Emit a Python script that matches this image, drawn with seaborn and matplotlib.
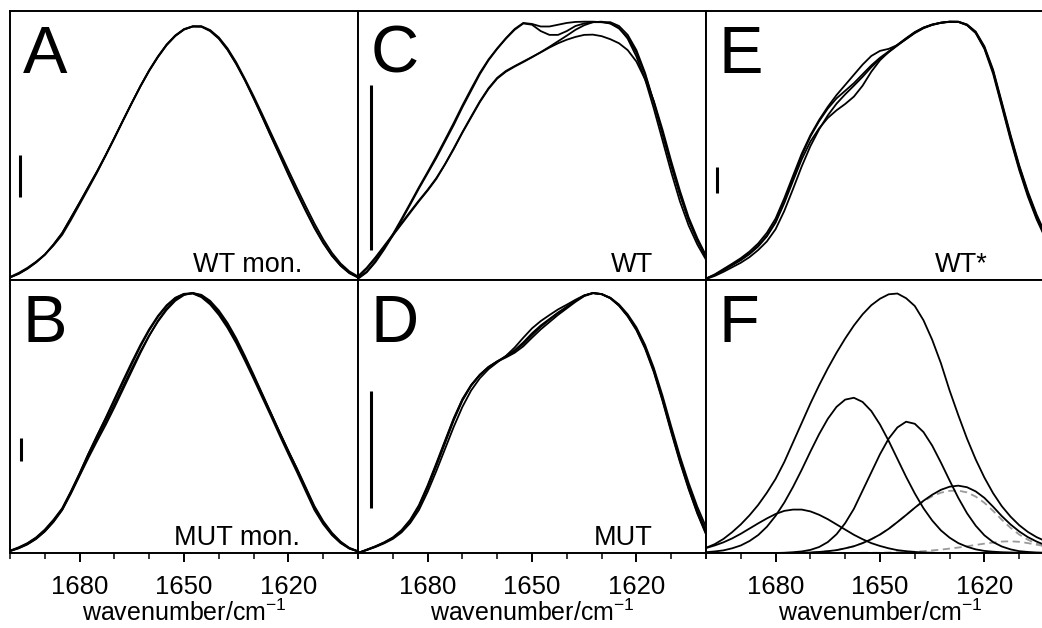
"""Amide I band shapes of WT / MUT samples (panels A-E) and band fit (panel F).
Six panels share the wavenumber axis, drawn with seaborn lineplot.
"""

import matplotlib
matplotlib.use("Agg")
import numpy as np
import pandas as pd
import matplotlib.pyplot as plt
import seaborn as sns
from matplotlib.ticker import MultipleLocator


wavenumber = [1700, 1697.5, 1695, 1692.5, 1690, 1687.5, 1685, 1682.5, 1680, 1677.5,
              1675, 1672.5, 1670, 1667.5, 1665, 1662.5, 1660, 1657.5, 1655, 1652.5,
              1650, 1647.5, 1645, 1642.5, 1640, 1637.5, 1635, 1632.5, 1630, 1627.5,
              1625, 1622.5, 1620, 1617.5, 1615, 1612.5, 1610, 1607.5, 1605, 1602.5,
              1600]

# panel A: WT mon.
wt_mon_1 = [0.010, 0.025, 0.045, 0.070, 0.100, 0.140, 0.185, 0.245, 0.305, 0.366,
            0.427, 0.492, 0.560, 0.629, 0.697, 0.763, 0.824, 0.878, 0.925, 0.961,
            0.986, 0.998, 0.998, 0.982, 0.952, 0.908, 0.852, 0.788, 0.717, 0.643,
            0.567, 0.493, 0.418, 0.345, 0.275, 0.208, 0.148, 0.097, 0.057, 0.028,
            0.010]
wt_mon_2 = [0.010, 0.024, 0.044, 0.069, 0.099, 0.139, 0.185, 0.244, 0.304, 0.366,
            0.427, 0.492, 0.560, 0.629, 0.697, 0.763, 0.824, 0.878, 0.925, 0.961,
            0.986, 0.998, 0.999, 0.984, 0.955, 0.912, 0.857, 0.792, 0.724, 0.652,
            0.578, 0.505, 0.432, 0.360, 0.290, 0.222, 0.160, 0.107, 0.065, 0.034,
            0.014]
wt_mon_3 = [0.012, 0.028, 0.048, 0.072, 0.100, 0.136, 0.178, 0.236, 0.298, 0.360,
            0.423, 0.490, 0.558, 0.628, 0.697, 0.764, 0.826, 0.880, 0.927, 0.963,
            0.988, 0.999, 0.997, 0.980, 0.950, 0.906, 0.850, 0.786, 0.715, 0.641,
            0.565, 0.490, 0.414, 0.341, 0.271, 0.204, 0.145, 0.095, 0.056, 0.027,
            0.010]

# panel B: MUT mon.
mut_mon_1 = [0.008, 0.020, 0.036, 0.058, 0.087, 0.125, 0.170, 0.235, 0.305, 0.380,
             0.451, 0.520, 0.592, 0.664, 0.734, 0.801, 0.861, 0.912, 0.953, 0.982,
             0.997, 0.999, 0.986, 0.960, 0.921, 0.872, 0.814, 0.748, 0.678, 0.607,
             0.535, 0.462, 0.390, 0.320, 0.245, 0.170, 0.115, 0.072, 0.040, 0.018,
             0.006]
mut_mon_2 = [0.008, 0.019, 0.034, 0.055, 0.083, 0.120, 0.165, 0.228, 0.297, 0.365,
             0.430, 0.493, 0.560, 0.630, 0.700, 0.770, 0.835, 0.893, 0.940, 0.975,
             0.994, 1.000, 0.990, 0.965, 0.926, 0.877, 0.818, 0.752, 0.681, 0.609,
             0.536, 0.463, 0.392, 0.322, 0.248, 0.175, 0.118, 0.074, 0.041, 0.018,
             0.006]
mut_mon_3 = [0.007, 0.018, 0.033, 0.054, 0.083, 0.120, 0.167, 0.232, 0.300, 0.372,
             0.440, 0.505, 0.572, 0.641, 0.710, 0.776, 0.837, 0.890, 0.935, 0.970,
             0.992, 1.000, 0.993, 0.970, 0.933, 0.885, 0.826, 0.758, 0.686, 0.612,
             0.538, 0.464, 0.392, 0.324, 0.252, 0.180, 0.123, 0.078, 0.044, 0.020,
             0.007]
mut_mon_4 = [0.009, 0.022, 0.038, 0.060, 0.090, 0.128, 0.172, 0.237, 0.307, 0.381,
             0.450, 0.517, 0.587, 0.657, 0.727, 0.795, 0.856, 0.908, 0.950, 0.980,
             0.996, 0.998, 0.984, 0.956, 0.916, 0.866, 0.807, 0.740, 0.670, 0.598,
             0.526, 0.452, 0.380, 0.310, 0.237, 0.165, 0.111, 0.069, 0.038, 0.017,
             0.006]

# panel C: WT
wt_1 = [0.005, 0.030, 0.070, 0.120, 0.175, 0.235, 0.297, 0.360, 0.420, 0.480,
        0.545, 0.610, 0.680, 0.745, 0.810, 0.865, 0.910, 0.950, 0.985, 1.010,
        1.005, 0.980, 0.965, 0.965, 0.980, 1.000, 1.010, 1.015, 1.015, 1.015,
        1.000, 0.965, 0.905, 0.815, 0.700, 0.575, 0.450, 0.335, 0.235, 0.155,
        0.090]
wt_2 = [0.008, 0.033, 0.074, 0.124, 0.180, 0.240, 0.302, 0.365, 0.425, 0.487,
        0.552, 0.618, 0.687, 0.752, 0.815, 0.868, 0.912, 0.952, 0.988, 1.012,
        1.008, 0.998, 0.998, 1.005, 1.012, 1.016, 1.017, 1.017, 1.015, 1.010,
        0.993, 0.950, 0.880, 0.790, 0.675, 0.550, 0.425, 0.310, 0.215, 0.140,
        0.080]
wt_3 = [0.012, 0.045, 0.085, 0.130, 0.175, 0.220, 0.265, 0.310, 0.352, 0.398,
        0.455, 0.515, 0.580, 0.640, 0.700, 0.752, 0.793, 0.820, 0.840, 0.858,
        0.877, 0.897, 0.918, 0.940, 0.962, 0.985, 1.003, 1.015, 1.017, 1.010,
        0.990, 0.955, 0.895, 0.808, 0.700, 0.578, 0.455, 0.340, 0.238, 0.158,
        0.092]
wt_4 = [0.015, 0.048, 0.089, 0.134, 0.179, 0.224, 0.269, 0.313, 0.355, 0.401,
        0.456, 0.518, 0.582, 0.643, 0.703, 0.755, 0.796, 0.823, 0.842, 0.860,
        0.878, 0.896, 0.915, 0.932, 0.946, 0.957, 0.965, 0.966, 0.960, 0.948,
        0.932, 0.905, 0.860, 0.790, 0.705, 0.592, 0.468, 0.352, 0.247, 0.165,
        0.096]

# panel D: MUT
mut_1 = [0.000, 0.012, 0.025, 0.040, 0.058, 0.085, 0.125, 0.180, 0.255, 0.340,
         0.428, 0.515, 0.590, 0.645, 0.685, 0.715, 0.737, 0.757, 0.780, 0.810,
         0.845, 0.875, 0.900, 0.925, 0.947, 0.970, 0.990, 1.000, 0.995, 0.980,
         0.952, 0.912, 0.860, 0.790, 0.700, 0.590, 0.470, 0.355, 0.250, 0.155,
         0.075]
mut_2 = [0.000, 0.011, 0.023, 0.037, 0.054, 0.079, 0.115, 0.165, 0.235, 0.315,
         0.400, 0.485, 0.562, 0.625, 0.672, 0.707, 0.733, 0.758, 0.790, 0.828,
         0.864, 0.892, 0.915, 0.937, 0.955, 0.974, 0.991, 1.000, 0.996, 0.981,
         0.953, 0.913, 0.862, 0.793, 0.704, 0.595, 0.476, 0.362, 0.258, 0.165,
         0.085]
mut_3 = [0.000, 0.012, 0.024, 0.039, 0.057, 0.083, 0.122, 0.176, 0.250, 0.334,
         0.422, 0.510, 0.586, 0.643, 0.684, 0.714, 0.736, 0.752, 0.770, 0.795,
         0.828, 0.860, 0.888, 0.916, 0.941, 0.966, 0.988, 0.999, 0.996, 0.980,
         0.951, 0.910, 0.857, 0.786, 0.696, 0.585, 0.465, 0.350, 0.246, 0.152,
         0.072]
mut_4 = [0.000, 0.013, 0.026, 0.041, 0.060, 0.088, 0.128, 0.184, 0.260, 0.345,
         0.432, 0.518, 0.592, 0.646, 0.686, 0.716, 0.737, 0.755, 0.776, 0.804,
         0.838, 0.870, 0.897, 0.923, 0.946, 0.970, 0.990, 1.000, 0.996, 0.982,
         0.956, 0.918, 0.868, 0.800, 0.712, 0.605, 0.487, 0.373, 0.270, 0.178,
         0.100]

# panel E: WT*
wt_star_1 = [0.005, 0.020, 0.040, 0.060, 0.080, 0.105, 0.135, 0.175, 0.230, 0.310,
             0.400, 0.490, 0.565, 0.625, 0.675, 0.715, 0.745, 0.775, 0.810, 0.845,
             0.875, 0.900, 0.925, 0.950, 0.975, 0.993, 1.005, 1.013, 1.017, 1.017,
             1.005, 0.975, 0.915, 0.820, 0.690, 0.560, 0.440, 0.335, 0.245, 0.170,
             0.110]
wt_star_2 = [0.004, 0.016, 0.032, 0.050, 0.068, 0.090, 0.118, 0.152, 0.200, 0.272,
             0.358, 0.447, 0.527, 0.593, 0.648, 0.694, 0.731, 0.765, 0.800, 0.838,
             0.870, 0.897, 0.923, 0.949, 0.974, 0.993, 1.005, 1.013, 1.017, 1.016,
             1.003, 0.972, 0.910, 0.812, 0.683, 0.553, 0.433, 0.328, 0.239, 0.165,
             0.106]
wt_star_3 = [0.006, 0.022, 0.043, 0.064, 0.086, 0.112, 0.144, 0.186, 0.242, 0.322,
             0.410, 0.497, 0.570, 0.630, 0.682, 0.728, 0.768, 0.808, 0.848, 0.882,
             0.902, 0.910, 0.925, 0.948, 0.972, 0.991, 1.004, 1.012, 1.016, 1.016,
             1.004, 0.974, 0.914, 0.822, 0.695, 0.566, 0.447, 0.342, 0.252, 0.176,
             0.115]
wt_star_4 = [0.005, 0.019, 0.038, 0.058, 0.078, 0.102, 0.132, 0.172, 0.226, 0.303,
             0.390, 0.475, 0.545, 0.597, 0.638, 0.668, 0.693, 0.722, 0.765, 0.820,
             0.865, 0.898, 0.926, 0.952, 0.976, 0.994, 1.006, 1.013, 1.017, 1.017,
             1.006, 0.978, 0.920, 0.828, 0.700, 0.572, 0.452, 0.348, 0.258, 0.182,
             0.120]

# panel F: measured band and fitted components
fit_envelope = [0.020, 0.034, 0.054, 0.080, 0.110, 0.145, 0.185, 0.232, 0.285, 0.350,
                0.425, 0.500, 0.575, 0.645, 0.710, 0.770, 0.825, 0.875, 0.918, 0.953,
                0.978, 0.995, 0.998, 0.980, 0.950, 0.895, 0.820, 0.730, 0.625, 0.530,
                0.440, 0.360, 0.290, 0.230, 0.180, 0.140, 0.107, 0.081, 0.061, 0.046,
                0.035]
band_1674 = [0.019, 0.029, 0.041, 0.056, 0.074, 0.094, 0.114, 0.133, 0.150, 0.162,
             0.167, 0.167, 0.160, 0.147, 0.130, 0.110, 0.090, 0.070, 0.053, 0.038,
             0.027, 0.018, 0.011, 0.007, 0.004, 0.002, 0.001, 0.000, 0.000, 0.000,
             0.000, 0.000, 0.000, 0.000, 0.000, 0.000, 0.000, 0.000, 0.000, 0.000,
             0.000]
band_1658 = [0.003, 0.006, 0.010, 0.018, 0.029, 0.046, 0.069, 0.101, 0.143, 0.194,
             0.254, 0.320, 0.390, 0.457, 0.516, 0.562, 0.590, 0.597, 0.581, 0.546,
             0.494, 0.431, 0.362, 0.293, 0.229, 0.172, 0.125, 0.087, 0.059, 0.038,
             0.024, 0.014, 0.008, 0.005, 0.003, 0.002, 0.001, 0.000, 0.000, 0.000,
             0.000]
band_1642 = [0.000, 0.000, 0.000, 0.000, 0.000, 0.000, 0.000, 0.000, 0.000, 0.001,
             0.003, 0.006, 0.012, 0.023, 0.042, 0.072, 0.115, 0.170, 0.240, 0.310,
             0.380, 0.440, 0.483, 0.505, 0.497, 0.465, 0.413, 0.348, 0.279, 0.212,
             0.153, 0.105, 0.068, 0.042, 0.025, 0.014, 0.007, 0.004, 0.002, 0.001,
             0.000]
band_1627 = [0.000, 0.000, 0.000, 0.000, 0.000, 0.000, 0.000, 0.000, 0.000, 0.000,
             0.000, 0.001, 0.002, 0.004, 0.007, 0.011, 0.018, 0.026, 0.038, 0.053,
             0.071, 0.093, 0.119, 0.146, 0.174, 0.201, 0.224, 0.243, 0.255, 0.259,
             0.253, 0.237, 0.212, 0.178, 0.142, 0.110, 0.083, 0.061, 0.044, 0.030,
             0.020]
dashed_1628 = [0.000, 0.000, 0.000, 0.000, 0.000, 0.000, 0.000, 0.000, 0.000, 0.000,
               0.000, 0.001, 0.002, 0.004, 0.007, 0.011, 0.018, 0.026, 0.038, 0.053,
               0.071, 0.093, 0.119, 0.146, 0.174, 0.199, 0.218, 0.232, 0.239, 0.240,
               0.233, 0.217, 0.193, 0.162, 0.128, 0.097, 0.071, 0.051, 0.036, 0.024,
               0.016]
dashed_1612 = [0.000, 0.000, 0.000, 0.000, 0.000, 0.000, 0.000, 0.000, 0.000, 0.000,
               0.000, 0.000, 0.000, 0.000, 0.000, 0.000, 0.000, 0.000, 0.001, 0.001,
               0.001, 0.002, 0.003, 0.004, 0.005, 0.007, 0.010, 0.013, 0.017, 0.021,
               0.026, 0.031, 0.036, 0.040, 0.044, 0.045, 0.043, 0.038, 0.032, 0.026,
               0.020]

# scale bars: wavenumber position, lower and upper end
bar_pos = {'A': (1697.1, 0.327, 0.492), 'B': (1696.8, 0.354, 0.442),
           'C': (1696.3, 0.118, 0.768), 'D': (1696.3, 0.173, 0.623),
           'E': (1696.8, 0.343, 0.445)}

panel_letters = ['A', 'B', 'C', 'D', 'E', 'F']
panel_labels = ['WT mon.', 'MUT mon.', 'WT', 'MUT', 'WT*', '']
panel_curves = {'A': [wt_mon_1, wt_mon_2, wt_mon_3],
                'B': [mut_mon_1, mut_mon_2, mut_mon_3, mut_mon_4],
                'C': [wt_1, wt_2, wt_3, wt_4],
                'D': [mut_1, mut_2, mut_3, mut_4],
                'E': [wt_star_1, wt_star_2, wt_star_3, wt_star_4],
                'F': [fit_envelope, band_1674, band_1658, band_1642, band_1627]}
fit_dashed = [dashed_1628, dashed_1612]


sns.set_theme(style="white")
plt.rcParams['font.family'] = ['Liberation Sans', 'DejaVu Sans']
plt.rcParams['mathtext.fontset'] = 'custom'
plt.rcParams['mathtext.rm'] = 'Liberation Sans'
plt.rcParams['text.color'] = 'black'
plt.rcParams['axes.labelcolor'] = 'black'
plt.rcParams['xtick.color'] = 'black'

fig = plt.figure(figsize=(10.42, 6.28), dpi=100)

# layout in pixels of the 1042x628 canvas (third column runs off the right edge)
W, H = 1042, 628
col_x = [10, 358, 706]
col_w = 348
row_top = [11, 280]
row_bottom = [280, 553]
label_right = {'A': 0.839, 'B': 0.833, 'C': 0.848, 'D': 0.848, 'E': 0.81}

for k, letter in enumerate(panel_letters):
    col, row = k // 2, k % 2
    rect = [col_x[col] / W, (H - row_bottom[row]) / H,
            col_w / W, (row_bottom[row] - row_top[row]) / H]
    ax = fig.add_axes(rect)

    # long table of the panel's traces
    curves = panel_curves[letter]
    df = pd.DataFrame({
        'wavenumber': np.tile(wavenumber, len(curves)),
        'absorbance': np.concatenate(curves),
        'trace': np.repeat(np.arange(len(curves)), len(wavenumber)),
    })

    if letter == 'F':
        dash_df = pd.DataFrame({
            'wavenumber': np.tile(wavenumber, len(fit_dashed)),
            'absorbance': np.concatenate(fit_dashed),
            'trace': np.repeat(np.arange(len(fit_dashed)), len(wavenumber)),
        })
        sns.lineplot(data=dash_df, x='wavenumber', y='absorbance', units='trace',
                     estimator=None, color='#9a9a9a', linewidth=1.3,
                     linestyle=(0, (4, 2.5)), ax=ax, zorder=2)

    sns.lineplot(data=df, x='wavenumber', y='absorbance', units='trace',
                 estimator=None, color='black', linewidth=1.3, ax=ax, zorder=3)

    if letter in bar_pos:
        bx, by0, by1 = bar_pos[letter]
        ax.vlines(bx, by0, by1, color='black', linewidth=2.2)

    # peak (1.0) sits ~15 px under the top edge
    ax.set_ylim(0, 1.059 if row == 0 else 1.05)
    ax.set_xlim(1700, 1600)
    ax.set_yticks([])
    ax.set_ylabel('')
    ax.xaxis.set_major_locator(MultipleLocator(30))
    ax.xaxis.set_minor_locator(MultipleLocator(10))
    for sp in ax.spines.values():
        sp.set_visible(True)
        sp.set_color('black')
        sp.set_linewidth(1.4)

    ax.text(0.037, 0.948, letter, transform=ax.transAxes, fontsize=48,
            ha='left', va='top', color='black')
    if panel_labels[k]:
        ax.text(label_right[letter], 0.028 if row == 0 else 0.03,
                panel_labels[k], transform=ax.transAxes, fontsize=19.5,
                ha='right', va='baseline', color='black')

    if row == 0:
        ax.tick_params(axis='x', which='both', bottom=False, labelbottom=False)
        ax.set_xlabel('')
    else:
        ax.tick_params(axis='x', which='major', bottom=True, direction='out',
                       length=6.5, width=1.4, labelsize=18.5, pad=9,
                       colors='black')
        ax.tick_params(axis='x', which='minor', bottom=True, direction='out',
                       length=4.3, width=1.1, colors='black')
        ax.set_xlabel(r'wavenumber/cm$^{\mathregular{-1}}$', fontsize=18,
                      labelpad=1, color='black')

fig.savefig('out.png', dpi=100)
